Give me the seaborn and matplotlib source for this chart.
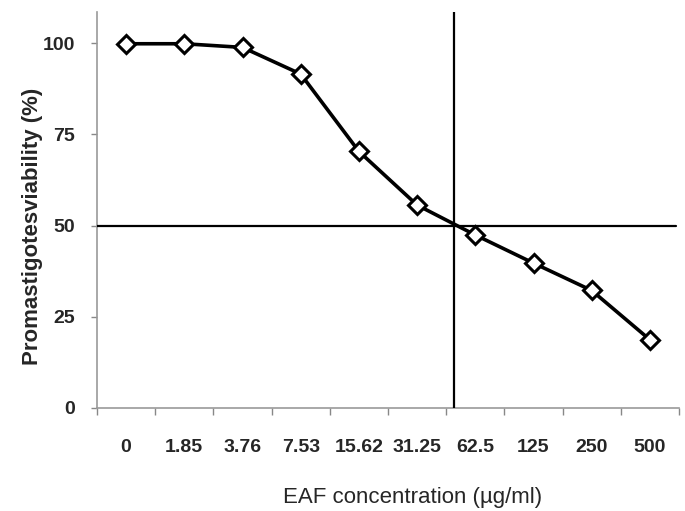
import matplotlib
matplotlib.use("Agg")
import matplotlib.pyplot as plt
import seaborn as sns
import pandas as pd

categories = ["0", "1.85", "3.76", "7.53", "15.62", "31.25", "62.5", "125", "250", "500"]
viability = [99.8, 99.8, 98.8, 91.5, 70.3, 55.6, 47.4, 39.7, 32.2, 18.7]
ic50_position = 5.64
ic50_level = 50
y_ticks = [0, 25, 50, 75, 100]

sns.set_theme(style="white")
plt.rcParams['font.family'] = ['Liberation Sans', 'DejaVu Sans']
narrow = ['Liberation Sans Narrow', 'Liberation Sans', 'DejaVu Sans']

df = pd.DataFrame({"cat": categories, "idx": range(len(categories)), "v": viability})

fig = plt.figure(figsize=(6.85, 5.11), dpi=100)
ax = fig.add_axes([97/685, 1 - 408/511, (679-97)/685, (408-12)/511])

sns.lineplot(data=df, x="idx", y="v", ax=ax, color="black", linewidth=2.6,
             marker="D", markersize=9, markerfacecolor="white",
             markeredgecolor="black", markeredgewidth=2.2, zorder=5)

ax.axhline(ic50_level, color="black", linewidth=1.6, xmax=(676-97)/(679-97), zorder=3)
ax.axvline(ic50_position, color="black", linewidth=1.6, zorder=3)

ax.set_xlim(-0.5, len(categories) - 0.5)
ax.set_ylim(0, 108.5)
ax.set_xticks(range(len(categories)))
ax.set_xticklabels(categories, fontsize=14, fontweight="bold", family=narrow)
ax.set_yticks(y_ticks)
ax.set_yticklabels([str(t) for t in y_ticks], fontsize=14, fontweight="bold", family=narrow)
ax.tick_params(axis="x", length=0, pad=22)
ax.tick_params(axis="y", length=4, width=1, color="#888888", direction="out", pad=12, left=True)
ax.set_xticks([i - 0.5 for i in range(len(categories) + 1)], minor=True)
ax.tick_params(axis="x", which="minor", length=5, width=1, color="#888888", direction="out", bottom=True)

for s in ["top", "right"]:
    ax.spines[s].set_visible(False)
for s in ["left", "bottom"]:
    ax.spines[s].set_color("#999999")
    ax.spines[s].set_linewidth(1.2)

ax.set_xlabel("EAF concentration (µg/ml)", fontsize=16)
ax.xaxis.set_label_coords((413 - 97) / 582, -(498 - 408) / 396, transform=ax.transAxes)
ax.xaxis.label.set_va("center")
ax.set_ylabel("Promastigotesviability (%)", fontsize=16, fontweight="bold")
ax.yaxis.set_label_coords((33 - 97) / 582, (408 - 226) / 396, transform=ax.transAxes)
ax.yaxis.label.set_va("center")
ax.grid(False)

fig.savefig("out.png", dpi=100, facecolor="white")
